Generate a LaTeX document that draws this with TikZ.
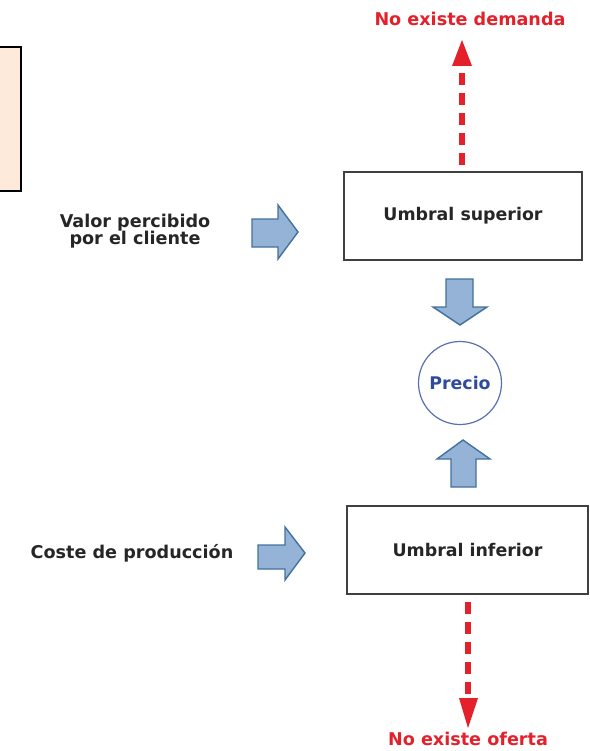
\documentclass[tikz,border=0pt]{standalone}
\usepackage{fontspec}
\setmainfont{DejaVu Sans}
\usetikzlibrary{arrows.meta}
\definecolor{redline}{HTML}{E4202A}
\definecolor{blfill}{HTML}{95B3D7}
\definecolor{bldraw}{HTML}{41719C}
\definecolor{peach}{HTML}{FDEADA}
\definecolor{precblue}{HTML}{2F4B9B}
\tikzset{
  lbl/.style={font=\fontsize{17.6}{17.5}\selectfont\bfseries, text=black!85, inner sep=0pt},
  redlbl/.style={font=\fontsize{17.6}{17}\selectfont\bfseries, text=redline, inner sep=0pt},
  umbral/.style={draw=black!75, line width=1.3pt, minimum height=88pt, inner sep=0pt, font=\fontsize{17.4}{17}\selectfont\bfseries, text=black!85},
  blockarrow/.style={fill=blfill, draw=bldraw, line width=1.4pt, line join=miter},
  reddash/.style={draw=redline, line width=5.5pt, dash pattern=on 12pt off 8pt},
  redhead/.style={fill=redline, draw=none},
}
\begin{document}
\begin{tikzpicture}[x=1pt,y=-1pt]
\useasboundingbox (0,0) rectangle (589,751);
% partial peach box on the left
\draw[fill=peach, draw=black, line width=2pt] (-10,47) rectangle (20.5,191);
% nodes
\node[umbral, minimum width=238pt] (sup) at (463,216) {Umbral superior};
\node[umbral, minimum width=241pt] (inf) at (467.5,550) {Umbral inferior};
\node[circle, draw=precblue!80, line width=1.2pt, minimum size=83pt, inner sep=0pt,
      font=\fontsize{17.4}{17}\selectfont\bfseries, text=precblue] (prec) at (460,383) {Precio};
\node[redlbl] (dem) at (470,19) {No existe demanda};
\node[redlbl] (ofe) at (468,739) {No existe oferta};
\node[lbl, align=center] (valor) at (135,231) {Valor percibido\\por el cliente};
\node[lbl] (coste) at (132,553) {Coste de producción};
% block arrows
\draw[blockarrow] (252,219) -- (278,219) -- (278,205) -- (298,232) -- (278,259) -- (278,247) -- (252,247) -- cycle;
\draw[blockarrow] (258,545) -- (285,545) -- (285,527) -- (305,553) -- (285,580) -- (285,569) -- (258,569) -- cycle;
\draw[blockarrow] (446,279) -- (473,279) -- (473,307) -- (487,307) -- (460,325) -- (433,307) -- (446,307) -- cycle;
\draw[blockarrow] (451,487) -- (476,487) -- (476,459) -- (490,459) -- (463,440) -- (437,459) -- (451,459) -- cycle;
% red dashed arrows
\coordinate (demstart) at (462,165);
\coordinate (demtip) at (462,40);
\coordinate (ofestart) at (468,602);
\coordinate (ofetip) at (468,728);
\draw[reddash] (demstart) -- ([yshift=-25pt]demtip);
\fill[redhead] ([xshift=-10pt,yshift=-26pt]demtip) -- ([xshift=10pt,yshift=-26pt]demtip) -- (demtip) -- cycle;
\draw[reddash] (ofestart) -- ([yshift=29pt]ofetip);
\fill[redhead] ([xshift=-9pt,yshift=30pt]ofetip) -- ([xshift=10pt,yshift=30pt]ofetip) -- (ofetip) -- cycle;
\end{tikzpicture}
\end{document}
